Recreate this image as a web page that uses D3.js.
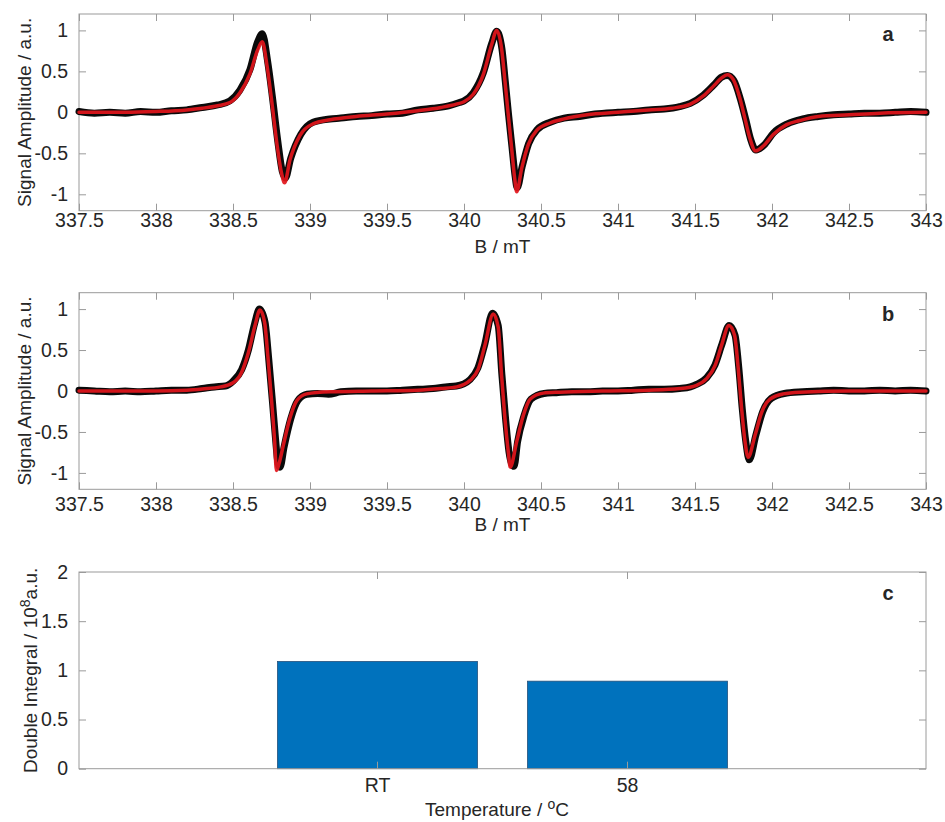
<!DOCTYPE html>
<html>
<head>
<meta charset="utf-8">
<script src="https://cdn.jsdelivr.net/npm/d3@7"></script>
<style>
  body { margin: 0; background: #fff; }
  svg text { font-family: "Liberation Sans", Arial, Helvetica, sans-serif; fill: #262626; }
</style>
</head>
<body>
<svg id="fig" width="945" height="822"></svg>
<script>
// ---- data ----
// field ticks (mT) and amplitude ticks
const fieldTicks = [337.5, 338, 338.5, 339, 339.5, 340, 340.5, 341, 341.5, 342, 342.5, 343];
const ampTicks = [-1, -0.5, 0, 0.5, 1];
const integralTicks = [0, 0.5, 1, 1.5, 2];

// panel a: measured spectrum (black) and fit (red), [B, amplitude]
const aData = [[337.5,0.01],[337.6,-0.01],[337.7,0.0],[337.8,-0.01],[337.9,0.01],[338.0,0.0],[338.1,0.02],[338.2,0.03],[338.3,0.06],[338.4,0.09],[338.48,0.14],[338.545,0.27],[338.61,0.52],[338.66,0.86],[338.69,0.96],[338.725,0.62],[338.755,0.2],[338.79,-0.34],[338.82,-0.72],[338.84,-0.80],[338.875,-0.56],[338.94,-0.27],[339.02,-0.12],[339.13,-0.08],[339.2,-0.07],[339.3,-0.05],[339.4,-0.04],[339.5,-0.02],[339.6,-0.01],[339.7,0.03],[339.8,0.05],[339.9,0.08],[339.97,0.12],[340.0,0.14],[340.06,0.24],[340.125,0.48],[340.18,0.84],[340.212,0.99],[340.246,0.78],[340.268,0.38],[340.29,-0.04],[340.312,-0.43],[340.332,-0.78],[340.345,-0.92],[340.378,-0.66],[340.42,-0.38],[340.475,-0.21],[340.56,-0.12],[340.65,-0.07],[340.75,-0.05],[340.85,-0.02],[341.0,0.0],[341.1,0.01],[341.2,0.03],[341.3,0.04],[341.4,0.07],[341.47,0.11],[341.554,0.21],[341.62,0.33],[341.673,0.43],[341.71,0.45],[341.752,0.39],[341.795,0.16],[341.83,-0.09],[341.86,-0.32],[341.896,-0.46],[341.948,-0.40],[342.01,-0.25],[342.1,-0.14],[342.2,-0.08],[342.3,-0.05],[342.4,-0.03],[342.5,-0.02],[342.6,-0.01],[342.7,-0.01],[342.8,0.0],[342.9,0.01],[343.0,0.0]];
const aFit = [[337.5,0],[337.8,0],[338.0,0.01],[338.2,0.03],[338.3,0.05],[338.4,0.08],[338.48,0.12],[338.545,0.24],[338.61,0.47],[338.66,0.76],[338.69,0.86],[338.72,0.58],[338.75,0.16],[338.785,-0.38],[338.815,-0.74],[338.835,-0.86],[338.87,-0.58],[338.935,-0.28],[339.02,-0.14],[339.13,-0.09],[339.3,-0.05],[339.5,-0.02],[339.7,0.02],[339.85,0.06],[339.95,0.1],[340.0,0.13],[340.06,0.22],[340.125,0.46],[340.18,0.83],[340.212,1.0],[340.244,0.78],[340.266,0.38],[340.288,-0.04],[340.31,-0.45],[340.33,-0.82],[340.342,-0.97],[340.375,-0.68],[340.418,-0.39],[340.472,-0.22],[340.558,-0.13],[340.65,-0.08],[340.8,-0.03],[341.0,0.0],[341.2,0.03],[341.35,0.05],[341.47,0.1],[341.554,0.2],[341.62,0.32],[341.673,0.42],[341.71,0.46],[341.749,0.40],[341.792,0.17],[341.825,-0.08],[341.857,-0.32],[341.893,-0.47],[341.944,-0.41],[342.008,-0.27],[342.095,-0.15],[342.18,-0.10],[342.3,-0.05],[342.5,-0.03],[342.7,-0.01],[343.0,0]];

// panel b
const bData = [[337.5,0.01],[337.6,0.0],[337.7,-0.01],[337.8,0.0],[337.9,-0.01],[338.0,0.0],[338.1,0.01],[338.2,0.01],[338.3,0.03],[338.38,0.05],[338.45,0.06],[338.5,0.12],[338.556,0.26],[338.6,0.5],[338.64,0.82],[338.672,1.0],[338.708,0.84],[338.732,0.39],[338.757,-0.15],[338.776,-0.58],[338.792,-0.88],[338.805,-0.93],[338.832,-0.68],[338.875,-0.34],[338.92,-0.12],[338.98,-0.04],[339.05,-0.03],[339.12,-0.04],[339.2,-0.01],[339.3,0.0],[339.4,0.0],[339.5,0.0],[339.6,0.01],[339.7,0.02],[339.8,0.03],[339.88,0.05],[339.95,0.06],[340.04,0.14],[340.09,0.28],[340.135,0.57],[340.185,0.95],[340.222,0.8],[340.246,0.2],[340.27,-0.34],[340.292,-0.74],[340.31,-0.89],[340.325,-0.92],[340.348,-0.62],[340.39,-0.3],[340.435,-0.1],[340.52,-0.03],[340.6,-0.02],[340.7,-0.01],[340.8,-0.01],[340.9,0.0],[341.0,0.0],[341.1,0.01],[341.2,0.02],[341.3,0.02],[341.4,0.03],[341.47,0.05],[341.51,0.08],[341.575,0.16],[341.63,0.32],[341.675,0.57],[341.722,0.8],[341.76,0.68],[341.785,0.27],[341.807,-0.22],[341.83,-0.62],[341.852,-0.84],[341.895,-0.54],[341.94,-0.25],[341.995,-0.09],[342.08,-0.03],[342.2,-0.01],[342.3,0.0],[342.4,0.01],[342.5,0.0],[342.6,0.0],[342.7,0.01],[342.8,0.0],[342.9,0.01],[343.0,0.0]];
const bFit = [[337.5,0],[337.8,0],[338.0,0],[338.2,0.01],[338.3,0.025],[338.42,0.05],[338.5,0.1],[338.556,0.23],[338.6,0.47],[338.643,0.8],[338.675,0.99],[338.705,0.84],[338.728,0.39],[338.752,-0.15],[338.77,-0.6],[338.782,-0.97],[338.8,-0.88],[338.827,-0.66],[338.87,-0.33],[338.914,-0.12],[338.978,-0.035],[339.13,-0.01],[339.4,0],[339.7,0.01],[339.85,0.03],[339.953,0.05],[340.04,0.13],[340.093,0.27],[340.136,0.56],[340.19,0.94],[340.222,0.78],[340.244,0.19],[340.266,-0.34],[340.288,-0.75],[340.3,-0.93],[340.342,-0.62],[340.385,-0.3],[340.429,-0.1],[340.515,-0.026],[340.623,-0.014],[340.9,0],[341.2,0.01],[341.4,0.03],[341.51,0.07],[341.575,0.15],[341.63,0.31],[341.673,0.56],[341.72,0.8],[341.757,0.68],[341.781,0.27],[341.803,-0.22],[341.825,-0.62],[341.845,-0.81],[341.89,-0.54],[341.933,-0.26],[341.987,-0.1],[342.073,-0.035],[342.18,-0.014],[342.5,0],[343,0]];

// panel c: double integral (x 10^8 a.u.)
const temps = ["RT", "58"];
const integrals = [1.09, 0.89];

// ---- layout ----
const left = 79, right = 926;
const boxColor = "#9a9a9a";
const tickLen = 7;
const tickFont = "19.5px";
const labelFont = "19px";
const svg = d3.select("#fig");

function frame(g, top, bottom) {
  g.append("rect")
    .attr("x", left).attr("y", top)
    .attr("width", right - left).attr("height", bottom - top)
    .attr("fill", "none").attr("stroke", boxColor).attr("stroke-width", 1);
}

function styleAxis(sel) {
  sel.select(".domain").remove();
  sel.selectAll(".tick line").attr("stroke", boxColor);
  sel.selectAll(".tick text").style("font-size", tickFont).attr("fill", "#262626");
}

function drawSpectrum(top, bottom, data, fit, label, tickBase, labelBase, labelY) {
  const g = svg.append("g");
  const x = d3.scaleLinear().domain([337.5, 343]).range([left, right]);
  const y = d3.scaleLinear().domain([-1.2, 1.2]).range([bottom, top]);

  // axes, ticks pointing inward like the original
  const xb = g.append("g").attr("transform", `translate(0,${bottom})`)
    .call(d3.axisBottom(x).tickValues(fieldTicks).tickFormat(d => String(d))
      .tickSizeInner(-tickLen).tickSizeOuter(0));
  styleAxis(xb);
  xb.selectAll(".tick text").attr("dy", null).attr("y", tickBase - bottom);

  const xt = g.append("g").attr("transform", `translate(0,${top})`)
    .call(d3.axisTop(x).tickValues(fieldTicks).tickFormat("")
      .tickSizeInner(-tickLen).tickSizeOuter(0));
  styleAxis(xt);

  const yl = g.append("g").attr("transform", `translate(${left},0)`)
    .call(d3.axisLeft(y).tickValues(ampTicks).tickFormat(d => String(d))
      .tickSizeInner(-tickLen).tickSizeOuter(0).tickPadding(11));
  styleAxis(yl);

  const yr = g.append("g").attr("transform", `translate(${right},0)`)
    .call(d3.axisRight(y).tickValues(ampTicks).tickFormat("")
      .tickSizeInner(-tickLen).tickSizeOuter(0));
  styleAxis(yr);

  frame(g, top, bottom);

  const line = d3.line()
    .x(d => x(d[0]))
    .y(d => y(d[1]))
    .curve(d3.curveMonotoneX);

  g.append("path").datum(data)
    .attr("d", line)
    .attr("fill", "none").attr("stroke", "#0a0a0a")
    .attr("stroke-width", 7).attr("stroke-linejoin", "round").attr("stroke-linecap", "round");

  g.append("path").datum(fit)
    .attr("d", line)
    .attr("fill", "none").attr("stroke", "#e3161c").attr("stroke-opacity", 0.92)
    .attr("stroke-width", 3.5).attr("stroke-linejoin", "round").attr("stroke-linecap", "round");

  g.append("text")
    .attr("x", (left + right) / 2).attr("y", labelBase)
    .attr("text-anchor", "middle").style("font-size", labelFont)
    .text("B / mT");

  g.append("text")
    .attr("transform", `translate(31,${(top + bottom) / 2}) rotate(-90)`)
    .attr("text-anchor", "middle").style("font-size", labelFont)
    .text("Signal Amplitude / a.u.");

  g.append("text")
    .attr("x", 888).attr("y", labelY)
    .attr("text-anchor", "middle").style("font-size", "20px").style("font-weight", "bold")
    .text(label);
}

drawSpectrum(14, 210.7, aData, aFit, "a", 227, 253, 41);
drawSpectrum(292.7, 489.3, bData, bFit, "b", 511, 531, 321);

// ---- panel c: bars ----
(function () {
  const top = 572, bottom = 768.7;
  const g = svg.append("g");
  const x = d3.scaleBand().domain(temps).range([left, right])
    .paddingInner(0.2).paddingOuter(0.794);
  const y = d3.scaleLinear().domain([0, 2]).range([bottom, top]);

  g.selectAll("rect.bar")
    .data(temps)
    .enter()
    .append("rect")
    .attr("class", "bar")
    .attr("x", d => x(d))
    .attr("y", (d, i) => y(integrals[i]))
    .attr("width", x.bandwidth())
    .attr("height", (d, i) => bottom - y(integrals[i]))
    .attr("fill", "#0072bd")
    .attr("stroke", "#24507a").attr("stroke-width", 0.8);

  const xb = g.append("g").attr("transform", `translate(0,${bottom})`)
    .call(d3.axisBottom(x).tickSizeInner(-tickLen).tickSizeOuter(0));
  styleAxis(xb);
  xb.selectAll(".tick text").attr("dy", null).attr("y", 792 - bottom);

  const xt = g.append("g").attr("transform", `translate(0,${top})`)
    .call(d3.axisTop(x).tickFormat("").tickSizeInner(-tickLen).tickSizeOuter(0));
  styleAxis(xt);

  const yl = g.append("g").attr("transform", `translate(${left},0)`)
    .call(d3.axisLeft(y).tickValues(integralTicks).tickFormat(d => String(d))
      .tickSizeInner(-tickLen).tickSizeOuter(0).tickPadding(11));
  styleAxis(yl);

  const yr = g.append("g").attr("transform", `translate(${right},0)`)
    .call(d3.axisRight(y).tickValues(integralTicks).tickFormat("")
      .tickSizeInner(-tickLen).tickSizeOuter(0));
  styleAxis(yr);

  frame(g, top, bottom);

  const xl = g.append("text")
    .attr("x", 497).attr("y", 816)
    .attr("text-anchor", "middle").style("font-size", labelFont);
  xl.append("tspan").text("Temperature / ");
  xl.append("tspan").attr("dy", -7).style("font-size", "14px").text("o");
  xl.append("tspan").attr("dy", 7).text("C");

  const yt = g.append("text")
    .attr("transform", `translate(37,${(top + bottom) / 2}) rotate(-90)`)
    .attr("text-anchor", "middle").style("font-size", labelFont);
  yt.append("tspan").text("Double Integral / 10");
  yt.append("tspan").attr("dy", -7).style("font-size", "14px").text("8");
  yt.append("tspan").attr("dy", 7).text("a.u.");

  g.append("text")
    .attr("x", 888).attr("y", 600)
    .attr("text-anchor", "middle").style("font-size", "20px").style("font-weight", "bold")
    .text("c");
})();
</script>
</body>
</html>
